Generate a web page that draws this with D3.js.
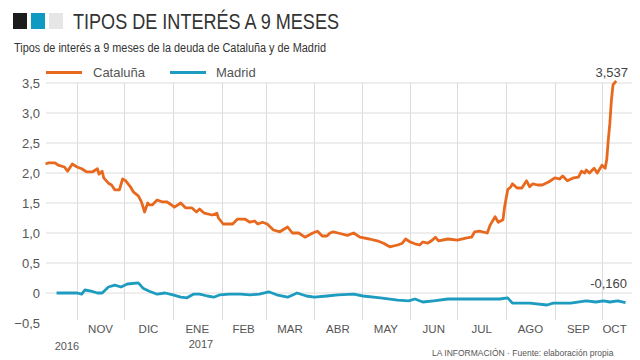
<!DOCTYPE html>
<html><head><meta charset="utf-8">
<script src="https://cdn.jsdelivr.net/npm/d3@7"></script>
<style>body{margin:0;background:#fff}svg{display:block;font-family:"Liberation Sans",Arial,sans-serif}</style>
</head><body><svg id="c" width="640" height="360"></svg>
<script>
const title = "TIPOS DE INTERÉS A 9 MESES";
const subtitle = "Tipos de interés a 9 meses de la deuda de Cataluña y de Madrid";
const seriesNames = ["Cataluña", "Madrid"];
const yTicks = [-0.5, 0, 0.5, 1, 1.5, 2, 2.5, 3, 3.5];
const monthNames = ["ENE","FEB","MAR","ABR","MAY","JUN","JUL","AGO","SEP","OCT","NOV","DIC"];
const lastLabels = ["3,537", "-0,160"];

const cataDates = ["2016-10-12","2016-10-14","2016-10-18","2016-10-20","2016-10-24","2016-10-26","2016-10-29","2016-11-01","2016-11-04","2016-11-07","2016-11-11","2016-11-14","2016-11-15","2016-11-17","2016-11-18","2016-11-21","2016-11-23","2016-11-25","2016-11-28","2016-11-30","2016-12-02","2016-12-05","2016-12-07","2016-12-10","2016-12-12","2016-12-14","2016-12-16","2016-12-17","2016-12-19","2016-12-22","2016-12-25","2016-12-28","2016-12-31","2017-01-02","2017-01-06","2017-01-09","2017-01-13","2017-01-16","2017-01-18","2017-01-21","2017-01-26","2017-01-29","2017-01-30","2017-02-02","2017-02-08","2017-02-11","2017-02-16","2017-02-19","2017-02-22","2017-02-24","2017-02-27","2017-03-02","2017-03-06","2017-03-10","2017-03-15","2017-03-18","2017-03-22","2017-03-26","2017-03-31","2017-04-03","2017-04-06","2017-04-09","2017-04-11","2017-04-13","2017-04-16","2017-04-22","2017-04-26","2017-04-30","2017-05-06","2017-05-11","2017-05-15","2017-05-19","2017-05-24","2017-05-27","2017-05-29","2017-06-01","2017-06-04","2017-06-07","2017-06-09","2017-06-12","2017-06-15","2017-06-17","2017-06-19","2017-06-25","2017-07-01","2017-07-07","2017-07-10","2017-07-12","2017-07-15","2017-07-20","2017-07-22","2017-07-25","2017-07-27","2017-07-30","2017-07-31","2017-08-02","2017-08-04","2017-08-05","2017-08-08","2017-08-11","2017-08-14","2017-08-16","2017-08-18","2017-08-21","2017-08-24","2017-08-28","2017-09-01","2017-09-04","2017-09-06","2017-09-09","2017-09-13","2017-09-16","2017-09-18","2017-09-20","2017-09-21","2017-09-23","2017-09-26","2017-09-28","2017-10-01","2017-10-03","2017-10-04","2017-10-05","2017-10-06","2017-10-07","2017-10-08","2017-10-10"];
const cataValues = [2.15,2.17,2.17,2.13,2.10,2.03,2.15,2.10,2.07,2.02,2.02,2.07,1.98,2.03,1.92,1.83,1.80,1.72,1.72,1.90,1.87,1.77,1.68,1.62,1.52,1.35,1.50,1.47,1.47,1.55,1.52,1.52,1.47,1.43,1.50,1.42,1.42,1.35,1.40,1.33,1.30,1.33,1.25,1.15,1.15,1.23,1.23,1.18,1.20,1.15,1.18,1.15,1.05,1.02,1.10,1.00,1.00,0.93,1.00,1.03,0.95,0.95,1.00,1.02,1.00,0.96,1.00,0.93,0.90,0.87,0.83,0.77,0.80,0.83,0.90,0.85,0.82,0.80,0.85,0.83,0.88,0.93,0.87,0.90,0.88,0.92,0.93,1.02,1.03,1.00,1.14,1.27,1.18,1.22,1.43,1.72,1.77,1.82,1.75,1.75,1.87,1.77,1.82,1.80,1.80,1.85,1.92,1.90,1.95,1.87,1.92,1.93,2.03,2.00,2.05,2.00,2.08,2.00,2.13,2.08,2.22,2.55,2.83,3.22,3.47,3.537];

const madDates = ["2016-10-19","2016-11-01","2016-11-04","2016-11-06","2016-11-10","2016-11-14","2016-11-17","2016-11-21","2016-11-25","2016-11-29","2016-12-03","2016-12-10","2016-12-13","2016-12-17","2016-12-22","2016-12-27","2017-01-01","2017-01-06","2017-01-10","2017-01-14","2017-01-18","2017-01-23","2017-01-27","2017-01-31","2017-02-06","2017-02-13","2017-02-19","2017-02-25","2017-03-03","2017-03-08","2017-03-15","2017-03-21","2017-03-27","2017-04-01","2017-04-09","2017-04-16","2017-04-26","2017-05-02","2017-05-13","2017-05-24","2017-05-31","2017-06-04","2017-06-09","2017-06-16","2017-06-25","2017-07-04","2017-07-15","2017-07-28","2017-08-02","2017-08-05","2017-08-16","2017-08-27","2017-08-31","2017-09-11","2017-09-21","2017-09-27","2017-10-02","2017-10-06","2017-10-11","2017-10-16"];
const madValues = [0.00,0.00,-0.02,0.05,0.03,0.00,0.00,0.10,0.13,0.10,0.15,0.17,0.08,0.03,-0.02,0.00,-0.03,-0.07,-0.08,-0.02,-0.02,-0.05,-0.07,-0.03,-0.02,-0.02,-0.03,-0.02,0.02,-0.03,-0.07,0.00,-0.05,-0.07,-0.05,-0.03,-0.02,-0.05,-0.08,-0.12,-0.13,-0.10,-0.15,-0.13,-0.10,-0.10,-0.10,-0.10,-0.08,-0.17,-0.17,-0.20,-0.17,-0.17,-0.13,-0.15,-0.13,-0.15,-0.13,-0.16];

const colors = ["#e8691d", "#1e9cc0"];
const parse = d3.timeParse("%Y-%m-%d");
const cata = cataDates.map((d, i) => ({date: parse(d), v: cataValues[i]}));
const mad = madDates.map((d, i) => ({date: parse(d), v: madValues[i]}));

const svg = d3.select("#c");
const pLeft = 46, pRight = 632, pTop = 83, pBottom = 323;
const domainStart = parse("2016-10-12"), domainEnd = parse("2017-10-17");

const x = d3.scaleTime().domain([parse("2016-11-01"), parse("2017-10-01")]).range([77, 602]);
const y = d3.scaleLinear().domain([-0.5, 3.5]).range([pBottom, pTop]);

// Header
const sq = [["#1c1c1e", 13], ["#0f9ac2", 31], ["#e6e6e6", 49]];
svg.selectAll("rect.sq").data(sq).join("rect").attr("class","sq")
  .attr("x", d => d[1]).attr("y", 13).attr("width", 14).attr("height", 16).attr("fill", d => d[0]);
svg.append("text").attr("x", 73).attr("y", 29).attr("font-size", 22.5).attr("fill", "#333")
  .attr("textLength", 266).attr("lengthAdjust", "spacingAndGlyphs").text(title);
svg.append("text").attr("x", 14).attr("y", 52).attr("font-size", 12).attr("fill", "#333")
  .attr("textLength", 312).attr("lengthAdjust", "spacingAndGlyphs").text(subtitle);

// Grid
const g = svg.append("g");
g.selectAll("line.h").data(yTicks.filter(t => t > -0.5)).join("line").attr("class","h")
  .attr("x1", pLeft).attr("x2", pRight).attr("y1", d => y(d)).attr("y2", d => y(d))
  .attr("stroke", "#dcdcdc").attr("stroke-width", 1);
const monthStarts = d3.timeMonth.range(d3.timeMonth.ceil(domainStart), domainEnd);
g.selectAll("line.v").data(monthStarts).join("line").attr("class","v")
  .attr("x1", d => Math.round(x(d)) + 0.5).attr("x2", d => Math.round(x(d)) + 0.5)
  .attr("y1", pTop).attr("y2", 320).attr("stroke", "#dcdcdc").attr("stroke-width", 1);

// Y labels
svg.selectAll("text.yl").data(yTicks).join("text").attr("class","yl")
  .attr("x", 40).attr("y", d => y(d) + 5).attr("text-anchor", "end")
  .attr("font-size", 13).attr("fill", "#555")
  .text(d => d === 0 ? "0" : d3.format(".1f")(d).replace(".", ","));

// Month labels
svg.selectAll("text.ml").data(monthStarts).join("text").attr("class","ml")
  .attr("x", d => {
    const end = d3.min([d3.timeMonth.offset(d, 1), domainEnd]);
    return (x(d) + x(end)) / 2;
  })
  .attr("y", 333).attr("text-anchor", "middle").attr("font-size", 11.5).attr("fill", "#555")
  .text(d => monthNames[d.getMonth()]);
svg.append("text").attr("x", 67).attr("y", 350).attr("text-anchor", "middle")
  .attr("font-size", 11).attr("fill", "#555").text("2016");
svg.append("text").attr("x", 201).attr("y", 348).attr("text-anchor", "middle")
  .attr("font-size", 11).attr("fill", "#555").text("2017");

// Lines
const line = d3.line().x(d => x(d.date)).y(d => y(d.v)).curve(d3.curveLinear);
svg.append("path").datum(mad).attr("d", line).attr("fill", "none")
  .attr("stroke", colors[1]).attr("stroke-width", 2.8).attr("stroke-linejoin", "round");
svg.append("path").datum(cata).attr("d", line).attr("fill", "none")
  .attr("stroke", colors[0]).attr("stroke-width", 2.8).attr("stroke-linejoin", "round");

// Legend
const leg = [[46, 93], [170, 216]];
seriesNames.forEach((n, i) => {
  svg.append("line").attr("x1", leg[i][0]).attr("x2", leg[i][0] + 36).attr("y1", 72.5).attr("y2", 72.5)
    .attr("stroke", colors[i]).attr("stroke-width", 3);
  svg.append("text").attr("x", leg[i][1]).attr("y", 77).attr("font-size", 13).attr("fill", "#555").text(n);
});

// End labels
svg.append("text").attr("x", 628).attr("y", 77).attr("text-anchor", "end")
  .attr("font-size", 13).attr("fill", "#444").text(lastLabels[0]);
svg.append("text").attr("x", 627).attr("y", 288).attr("text-anchor", "end")
  .attr("font-size", 13).attr("fill", "#444").text(lastLabels[1]);

// Footer
svg.append("text").attr("x", 432).attr("y", 356).attr("font-size", 8.5).attr("fill", "#555")
  .text("LA INFORMACIÓN · Fuente: elaboración propia");
</script></body></html>
